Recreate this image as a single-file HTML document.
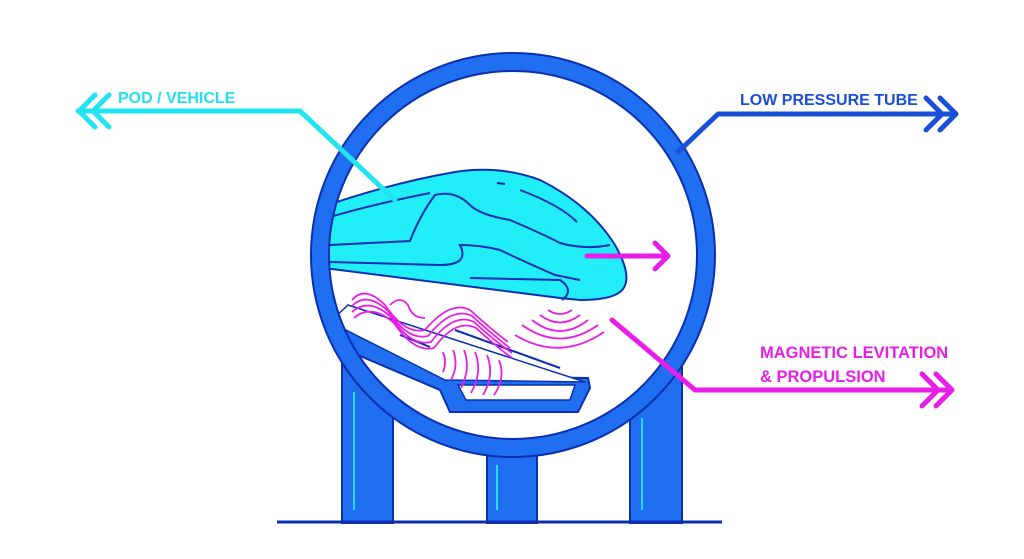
<!DOCTYPE html>
<html><head><style>
html,body{margin:0;padding:0;background:#fff;}
svg{display:block;}
text{font-family:"Liberation Sans",sans-serif;font-weight:bold;}
</style></head><body>
<svg width="1024" height="559" viewBox="0 0 1024 559">
<defs><clipPath id="c"><circle cx="513" cy="255" r="186"/></clipPath></defs>
<g fill="#1f6ff0" stroke="#0a2fb0" stroke-width="2">
<rect x="342" y="330" width="51" height="193"/>
<rect x="487" y="440" width="50" height="83"/>
<rect x="630" y="330" width="52" height="193"/>
</g>
<g stroke="#22e4f0" stroke-width="2">
<line x1="354" y1="392" x2="354" y2="510"/>
<line x1="497" y1="465" x2="497" y2="510"/>
<line x1="642" y1="418" x2="642" y2="510"/>
</g>
<line x1="277" y1="522" x2="722" y2="522" stroke="#0a2fb0" stroke-width="3"/>
<circle cx="513" cy="255" r="186" fill="#fff"/>
<g clip-path="url(#c)">
<path d="M318 338 L440 390 L450 412 L578 412 L590 388 L588 378 L445 376 L335 318 Z" fill="#1f6ff0" stroke="#0a2fb0" stroke-width="2"/>
<path d="M330 322 L445 380 L585 382 L348 305 Z" fill="#fff" stroke="#0a2fb0" stroke-width="1.5"/>
<path d="M458 385 L575 385 L570 400 L466 400 Z" fill="#fff" stroke="#0a2fb0" stroke-width="1.5"/>
<line x1="400" y1="335" x2="430" y2="347" stroke="#0a2fb0" stroke-width="2"/>
<line x1="455" y1="330" x2="560" y2="368" stroke="#0a2fb0" stroke-width="2"/>
<path d="M300 215 Q380 185 455 172 Q500 165 540 180 Q590 205 615 245 Q635 280 620 292 Q610 300 580 300 L560 298 L300 265 Z" fill="#22eef8" stroke="#0a2fb0" stroke-width="2"/>
<g fill="none" stroke="#0a2fb0" stroke-width="2">
<path d="M330 217 Q370 205 430 193"/>
<path d="M330 245 L410 241 Q420 215 435 195 Q455 190 470 205 Q480 215 510 220 Q545 235 560 243 Q585 250 610 245"/>
<path d="M330 262 L440 265 Q470 265 460 245 Q480 245 500 250 Q525 262 555 275 L580 280"/>
<path d="M470 278 L560 280 Q575 290 562 300"/>
<path d="M497 183 L505 184"/><path d="M520 190 Q560 205 577 222"/>
</g>
<g fill="none" stroke="#e81ee8" stroke-width="1.8">
<path d="M352 300 Q365 285 385 305 Q405 335 425 330 Q450 300 470 310 Q492 330 508 342"/>
<path d="M352 306 Q367 291 388 311 Q408 341 428 336 Q452 306 472 316 Q494 336 510 348"/>
<path d="M352 312 Q369 297 391 317 Q411 347 431 342 Q454 312 474 322 Q496 342 512 353"/>
<path d="M354 318 Q371 303 394 323 Q414 353 434 348 Q456 318 476 328 Q498 348 512 358"/>
<path d="M390 305 Q400 295 408 305 Q412 318 425 318"/>
<path d="M548 310 Q560 318 572 310"/><path d="M540 315 Q560 330 580 315"/><path d="M532 320 Q560 342 588 320"/><path d="M522 325 Q560 352 598 325"/><path d="M515 335 Q560 362 604 332"/>
<path d="M443 352 Q447 362 443 372"/><path d="M453 350 Q459 365 451 380"/><path d="M464 350 Q471 368 461 388"/><path d="M475 352 Q483 372 471 393"/><path d="M487 355 Q495 375 483 395"/><path d="M499 360 Q506 378 494 395"/>
</g>
</g>
<circle cx="513" cy="255" r="193" fill="none" stroke="#0a2fb0" stroke-width="20"/>
<circle cx="513" cy="255" r="193" fill="none" stroke="#1f6ff0" stroke-width="16"/>
<g stroke="#e81ee8" stroke-width="5" fill="none" stroke-linecap="round" stroke-linejoin="round">
<line x1="587" y1="256" x2="667" y2="256"/><polyline points="655,243 668,256 655,269"/>
<polyline points="612,320 695,390 950,390"/>
<polyline points="922,374 938,390 922,406"/><polyline points="936,374 952,390 936,406"/>
</g>
<g stroke="#22e4f0" stroke-width="5" fill="none" stroke-linecap="round" stroke-linejoin="round">
<polyline points="395,200 300,111 78,111"/>
<polyline points="95,95 79,111 95,127"/><polyline points="109,95 93,111 109,127"/>
</g>
<g stroke="#1a4fd8" stroke-width="5" fill="none" stroke-linecap="round" stroke-linejoin="round">
<polyline points="678,152 718,114 955,114"/>
<polyline points="926,98 942,114 926,130"/><polyline points="940,98 956,114 940,130"/>
</g>
<text x="118" y="103" fill="#22e0ee" font-size="16">POD / VEHICLE</text>
<text x="740" y="105" fill="#1a4fd8" font-size="16">LOW PRESSURE TUBE</text>
<text x="760" y="358" fill="#e81ee8" font-size="16.5">MAGNETIC LEVITATION</text>
<text x="760" y="382" fill="#e81ee8" font-size="16.5">&amp; PROPULSION</text>
</svg>
</body></html>
